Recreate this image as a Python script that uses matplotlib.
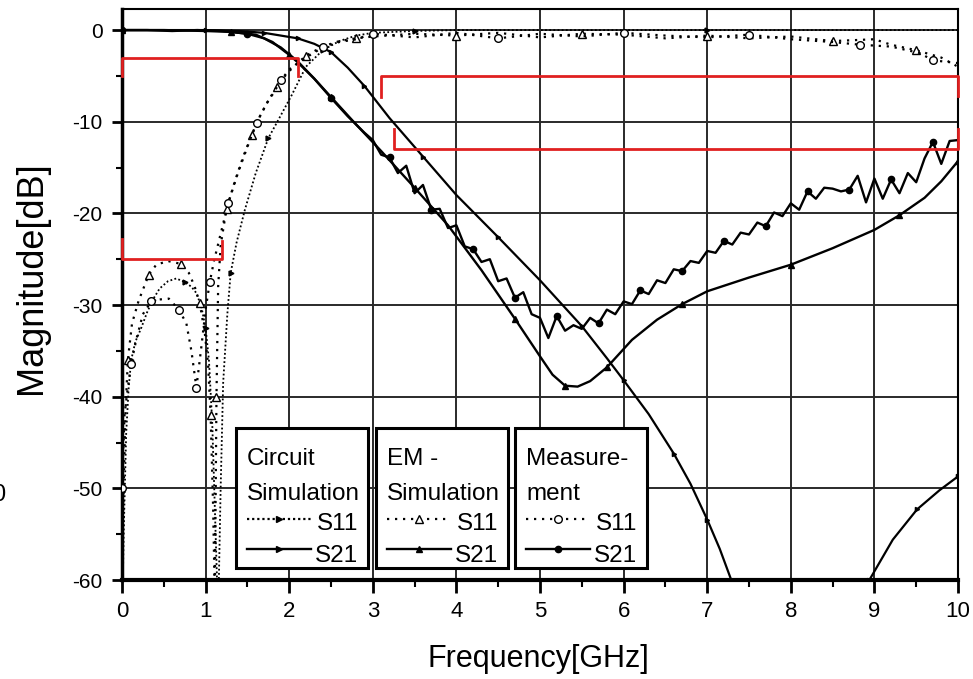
import matplotlib
matplotlib.use("Agg")
import matplotlib.pyplot as plt
from matplotlib.patches import Rectangle
from matplotlib.lines import Line2D

plt.rcParams['font.family'] = ['Liberation Sans', 'DejaVu Sans']
plt.rcParams['axes.unicode_minus'] = False

# --- data (GHz, dB) ---
circ_s11_x = [0.0, 0.02, 0.05, 0.08, 0.11, 0.16, 0.23, 0.3, 0.37, 0.45, 0.55, 0.65, 0.75,
              0.83, 0.89, 0.95, 1.0, 1.04, 1.08, 1.11, 1.15, 1.18, 1.21, 1.26, 1.3, 1.37,
              1.47, 1.6, 1.75, 1.87, 2.03, 2.2, 2.4, 2.6, 2.8, 3.0, 3.5, 4.0, 5.0, 6.0,
              7.0, 8.0, 9.0, 10.0]
circ_s11_y = [-65, -55, -44, -39, -36, -34, -32.5, -30.8, -29.4, -28.2, -27.4, -27.1, -27.5,
              -28.0, -28.7, -30.2, -32.5, -36, -43, -52, -64, -50, -38.5, -31, -26.5, -23.2,
              -19.6, -15.6, -11.8, -9.8, -7.1, -4.0, -2.2, -1.2, -0.6, -0.3, -0.1, 0, 0, 0,
              0, 0, 0, 0]

circ_s21_x = [0, 0.5, 1.0, 1.4, 1.7, 1.9, 2.1, 2.3, 2.5, 2.7, 2.9, 3.2, 3.6, 4.0, 4.5, 5.0,
              5.5, 5.8, 6.0, 6.3, 6.6, 6.8, 7.0, 7.15, 7.3, 7.4, 8.1, 8.6, 8.94, 9.22,
              9.51, 9.78, 10.0]
circ_s21_y = [0, 0, 0, -0.1, -0.3, -0.6, -0.9, -1.5, -2.4, -4.1, -6.1, -9.6, -13.8, -18.0,
              -22.6, -27.3, -32.3, -35.8, -38.2, -41.9, -46.2, -49.5, -53.4, -56.6, -60.3,
              -63, -90, -66, -60, -55.6, -52.3, -50.2, -48.7]

em_s11_x = [0.0, 0.02, 0.04, 0.07, 0.12, 0.2, 0.32, 0.41, 0.55, 0.7, 0.8, 0.87, 0.93, 0.99,
            1.03, 1.06, 1.09, 1.11, 1.13, 1.15, 1.18, 1.25, 1.35, 1.45, 1.55, 1.65, 1.75,
            1.85, 1.95, 2.05, 2.2, 2.4, 2.6, 2.8, 3.0, 3.5, 4.0, 4.5, 5.0, 5.5, 6.0, 6.5,
            7.0, 7.5, 8.0, 8.5, 9.0, 9.2, 9.5, 9.8, 10.0]
em_s11_y = [-62, -50, -42, -36, -32, -29.5, -26.7, -25.6, -25.2, -25.5, -26.5, -28, -29.8,
            -33, -36.5, -42, -52, -62, -40, -28, -23.5, -19.5, -16.5, -13.8, -11.5, -9.4,
            -7.7, -6.2, -5.0, -4.0, -2.8, -1.8, -1.2, -0.9, -0.7, -0.4, -0.6, -0.3, -0.8,
            -0.4, -0.5, -0.9, -0.6, -0.9, -0.7, -1.2, -1.0, -1.6, -2.2, -3.0, -4.0]

em_s21_x = [0, 0.5, 1.0, 1.3, 1.6, 1.8, 2.0, 2.1, 2.3, 2.5, 2.8, 3.1, 3.5, 3.9, 4.3, 4.7,
            5.0, 5.15, 5.3, 5.45, 5.6, 5.8, 6.1, 6.4, 6.7, 7.0, 7.5, 8.0, 8.5, 9.0, 9.3,
            9.6, 9.8, 10.0]
em_s21_y = [0, 0, -0.1, -0.2, -0.5, -1.3, -2.7, -3.5, -5.3, -7.3, -10.3, -13.2, -17.2,
            -21.3, -26.2, -31.5, -35.6, -37.6, -38.8, -38.9, -38.3, -36.8, -33.8, -31.6,
            -29.9, -28.5, -27.0, -25.6, -23.8, -21.8, -20.2, -18.3, -16.5, -14.3]

meas_s11_x = [0.0, 0.03, 0.07, 0.11, 0.17, 0.25, 0.35, 0.44, 0.56, 0.68, 0.77, 0.83, 0.89,
              0.95, 1.0, 1.05, 1.1, 1.17, 1.27, 1.39, 1.51, 1.61, 1.73, 1.81, 1.9, 2.0, 2.2,
              2.4, 2.6, 2.8, 3.0, 3.5, 4.0, 4.5, 5.0, 5.5, 6.0, 6.5, 7.0, 7.5, 8.0, 8.5,
              8.83, 9.2, 9.54, 9.7, 10.0]
meas_s11_y = [-50, -42, -39, -36.4, -33.8, -31.0, -29.6, -29.4, -29.3, -30.5, -32.0, -35.0,
              -39.0, -34.5, -30.5, -27.5, -25.2, -22.6, -18.9, -15.5, -12.5, -10.1, -8.0,
              -6.9, -5.5, -4.3, -3.0, -1.9, -1.3, -1.0, -0.4, -0.8, -0.3, -0.9, -0.4, -0.7,
              -0.3, -0.6, -0.8, -0.5, -1.0, -1.3, -1.6, -1.8, -2.5, -3.3, -3.6]

meas_s21_x = [0, 0.3, 0.6, 0.9, 1.2, 1.5, 1.7, 1.9, 2.1, 2.3, 2.5, 2.7, 2.9,
              3.0, 3.1, 3.2, 3.3, 3.4, 3.5, 3.6, 3.7, 3.8, 3.9, 4.0, 4.1, 4.2, 4.3, 4.4,
              4.5, 4.6, 4.7, 4.8, 4.9, 5.0, 5.1, 5.2, 5.3, 5.4, 5.5, 5.6, 5.7, 5.8, 5.9,
              6.0, 6.1, 6.2, 6.3, 6.4, 6.5, 6.6, 6.7, 6.8, 6.9, 7.0, 7.1, 7.2, 7.3, 7.4,
              7.5, 7.6, 7.7, 7.8, 7.9, 8.0, 8.1, 8.2, 8.3, 8.4, 8.5, 8.6, 8.7, 8.8, 8.9,
              9.0, 9.1, 9.2, 9.3, 9.4, 9.5, 9.6, 9.7, 9.8, 9.9, 10.0]
meas_s21_y = [0, 0, -0.1, 0, -0.1, -0.4, -0.9, -1.9, -3.4, -5.3, -7.4, -9.4, -11.2,
              -12.0, -13.6, -13.9, -15.6, -14.8, -17.8, -16.9, -19.6, -19.5, -21.6, -21.3,
              -23.6, -23.9, -25.3, -25.0, -27.4, -27.1, -29.2, -28.6, -31.0, -31.4, -33.6,
              -31.2, -32.8, -32.2, -32.6, -31.4, -32.0, -30.5, -31.0, -29.6, -29.9, -28.4,
              -28.8, -27.3, -27.6, -26.1, -26.3, -25.2, -25.4, -24.1, -24.3, -23.0, -23.4,
              -22.1, -22.3, -21.0, -21.4, -19.9, -20.3, -18.9, -19.6, -17.6, -18.4, -17.2,
              -17.3, -17.6, -17.4, -15.9, -18.8, -16.2, -18.4, -16.3, -17.8, -15.6, -16.6,
              -14.0, -12.2, -14.6, -12.1, -12.0]

# spec masks (red)
mask_pass_x = [0, 0, 2.1, 2.1]
mask_pass_y = [-5, -3, -3, -5]
mask_rl_x = [0, 0, 1.2, 1.2]
mask_rl_y = [-22.8, -25, -25, -23]
mask_stop1_x = [3.1, 3.1, 10, 10]
mask_stop1_y = [-7.3, -5, -5, -7.2]
mask_stop2_x = [3.25, 3.25, 10, 10]
mask_stop2_y = [-10.8, -13, -13, -10.8]

W, H = 973, 679
fig = plt.figure(figsize=(W / 100, H / 100), dpi=100)
ax = fig.add_axes([122 / W, 99 / H, 836 / W, 571 / H])

red = '#e02020'
for mx, my in [(mask_pass_x, mask_pass_y), (mask_rl_x, mask_rl_y),
               (mask_stop1_x, mask_stop1_y), (mask_stop2_x, mask_stop2_y)]:
    ax.plot(mx, my, color=red, lw=2.0, zorder=5, clip_on=False)

dot_sparse = (0, (1, 2.6))
dot_dense = (0, (1, 1.3))

ax.plot(circ_s11_x, circ_s11_y, color='k', lw=1.3, ls=dot_dense, marker='>', ms=3.5,
        markevery=4, zorder=4)
ax.plot(circ_s21_x, circ_s21_y, color='k', lw=1.6, marker='>', ms=3, markevery=2, zorder=4)
ax.plot(em_s11_x, em_s11_y, color='k', lw=1.6, ls=dot_sparse, marker='^', ms=6,
        mfc='white', mew=1.0, markevery=3, zorder=4)
ax.plot(em_s21_x, em_s21_y, color='k', lw=1.7, marker='^', ms=5, markevery=3, zorder=4)
ax.plot(meas_s11_x, meas_s11_y, color='k', lw=1.6, ls=dot_sparse, marker='o', ms=5.5,
        mfc='white', mew=1.0, markevery=3, zorder=4)
ax.plot(meas_s21_x, meas_s21_y, color='k', lw=1.7, marker='o', ms=4.5, markevery=5, zorder=4)

ax.set_xlim(0, 10)
ax.set_ylim(-60, 2.3)
ax.set_xticks(range(0, 11))
ax.set_xticks([i + 0.5 for i in range(10)], minor=True)
ax.set_yticks(range(-60, 1, 10))
ax.set_yticks(range(-55, 0, 10), minor=True)
ax.tick_params(axis='x', which='major', direction='out', length=9, width=2, labelsize=16, pad=6)
ax.tick_params(axis='x', which='minor', direction='out', length=5, width=1.5)
ax.tick_params(axis='y', which='major', direction='out', length=7, width=2, labelsize=15, pad=7)
ax.tick_params(axis='y', which='minor', direction='out', length=4, width=1.5)
ax.grid(True, which='major', color='#2a2a2a', lw=1.4)
ax.set_axisbelow(True)
ax.spines['bottom'].set_linewidth(3)
ax.spines['left'].set_linewidth(2.5)
ax.spines['top'].set_linewidth(1.5)
ax.spines['right'].set_linewidth(1.5)

fig.text(538 / W, 1 - 667 / H, 'Frequency[GHz]', fontsize=22, ha='center', va='baseline')
fig.text(32 / W, 1 - 278 / H, 'Magnitude[dB]', fontsize=26, rotation=90,
         ha='center', va='center')
fig.text(5 / W, 1 - 495 / H, '0', fontsize=17, ha='right', va='center')

# --- hand-built legend, in pixel coordinates ---
lax = fig.add_axes([0, 0, 1, 1], zorder=10)
lax.set_xlim(0, W)
lax.set_ylim(H, 0)
lax.axis('off')
lax.patch.set_alpha(0)

boxes = [
    (236, 368, 'Circuit', 'Simulation', dict(ls=dot_dense, marker='>', ms=4),
     dict(ls='-', marker='>', ms=4)),
    (376, 508, 'EM -', 'Simulation', dict(ls=dot_sparse, marker='^', ms=6, mfc='white'),
     dict(ls='-', marker='^', ms=5)),
    (515, 647, 'Measure-', 'ment', dict(ls=dot_sparse, marker='o', ms=5.5, mfc='white'),
     dict(ls='-', marker='o', ms=4.5)),
]
for x0, x1, t1, t2, s11_style, s21_style in boxes:
    lax.add_patch(Rectangle((x0, 428), x1 - x0, 140, facecolor='white', edgecolor='k', lw=2.2))
    lax.text(x0 + 11, 465, t1, fontsize=17.5, ha='left', va='baseline')
    lax.text(x0 + 11, 500, t2, fontsize=17.5, ha='left', va='baseline')
    lax.text(x1 - 10, 530, 'S11', fontsize=17.5, ha='right', va='baseline')
    lax.text(x1 - 10, 562, 'S21', fontsize=17.5, ha='right', va='baseline')
    lax.add_line(Line2D([x0 + 11, x0 + 43, x0 + 75], [519, 519, 519], color='k', lw=1.6,
                        markevery=[1], mew=1.0, **s11_style))
    lax.add_line(Line2D([x0 + 11, x0 + 43, x0 + 75], [549, 549, 549], color='k', lw=1.7,
                        markevery=[1], **s21_style))

fig.savefig('out.png', dpi=100)
